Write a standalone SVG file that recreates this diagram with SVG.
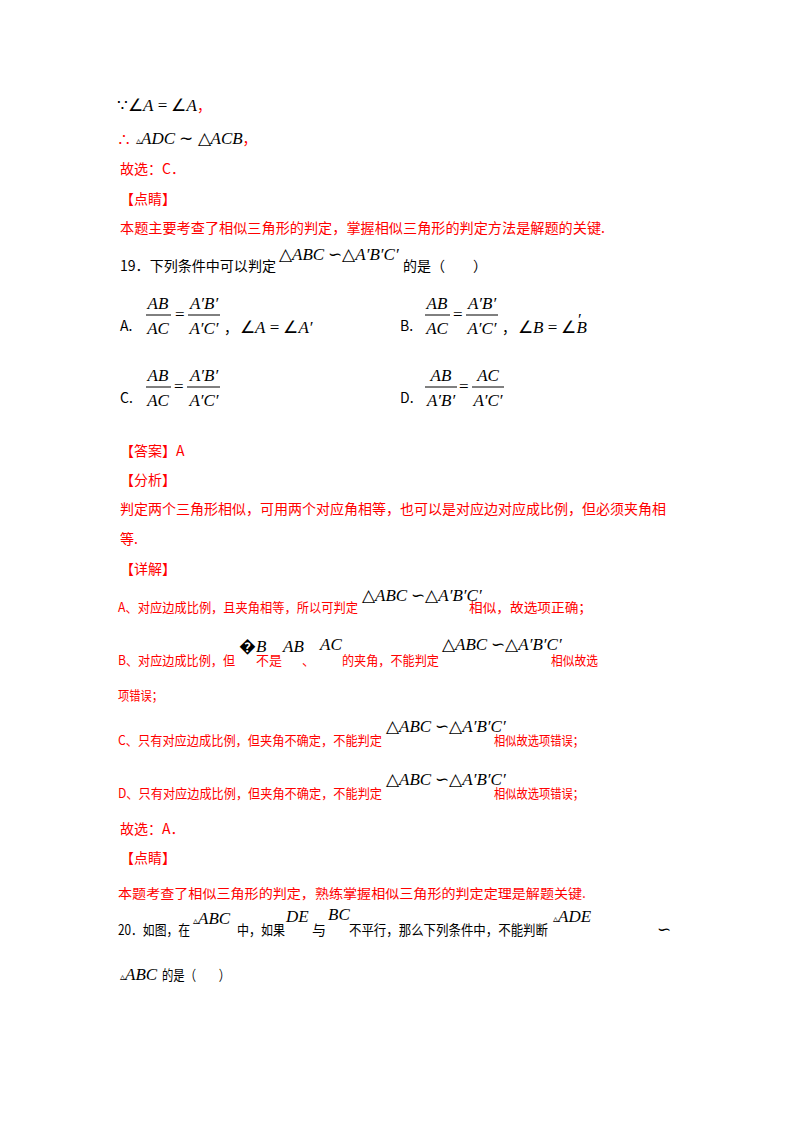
<svg xmlns="http://www.w3.org/2000/svg" width="800" height="1132" viewBox="0 0 800 1132">
<style>
.t{font-family:"Noto Sans CJK SC","Noto Sans",sans-serif;font-size:14px;fill:#000}
.u{font-family:"Noto Sans CJK SC","Noto Sans",sans-serif;font-size:13px;fill:#ff0000}
.r{fill:#ff0000}
.m{font-family:"Liberation Serif",serif;font-style:italic;font-size:17px;fill:#000}
.n{font-family:"Liberation Serif",serif;font-size:17px;fill:#000;font-style:normal}
.s{font-size:10px;font-style:normal}
line{stroke:#000;stroke-width:1}
</style>
<rect width="800" height="1132" fill="#fff"/>
<g id="solution18">
<text x="117" y="111" class="n" font-size="15">∵∠<tspan class="m" font-size="15">A</tspan> = ∠<tspan class="m" font-size="15">A</tspan><tspan class="t r">，</tspan></text>
<text x="117" y="144" class="t r">∴</text>
<text x="136" y="144" class="n"><tspan class="s">▵</tspan><tspan class="m">ADC</tspan> ∼ △<tspan class="m">ACB</tspan><tspan class="t r">，</tspan></text>
<text x="120" y="174" class="t r">故选：C．</text>
<text x="120" y="204" class="t r">【点睛】</text>
<text x="120" y="233" class="t r" textLength="485" lengthAdjust="spacingAndGlyphs">本题主要考查了相似三角形的判定，掌握相似三角形的判定方法是解题的关键.</text>
</g>
<g id="q19">
<text x="120" y="271" class="t" textLength="156" lengthAdjust="spacingAndGlyphs">19．下列条件中可以判定</text>
<text x="279" y="260" class="m"><tspan class="n">△</tspan>ABC <tspan class="n">∽</tspan><tspan class="n">△</tspan>A′B′C′</text>
<text x="403" y="271" class="t">的是（　　）</text>
<text x="120" y="331" class="t">A.</text>
<text x="158" y="309" class="m" text-anchor="middle">AB</text><line x1="146" y1="315" x2="171" y2="315"/><text x="158" y="334" class="m" text-anchor="middle">AC</text>
<text x="175" y="320" class="n">=</text>
<text x="204" y="309" class="m" text-anchor="middle">A′B′</text><line x1="188" y1="315" x2="220" y2="315"/><text x="204" y="334" class="m" text-anchor="middle">A′C′</text>
<text x="224" y="333" class="t">，</text>
<text x="240" y="333" class="n">∠<tspan class="m">A</tspan> = ∠<tspan class="m">A′</tspan></text>
<text x="400" y="331" class="t">B.</text>
<text x="437" y="309" class="m" text-anchor="middle">AB</text><line x1="425" y1="315" x2="450" y2="315"/><text x="437" y="334" class="m" text-anchor="middle">AC</text>
<text x="453" y="320" class="n">=</text>
<text x="482" y="309" class="m" text-anchor="middle">A′B′</text><line x1="466" y1="315" x2="498" y2="315"/><text x="482" y="334" class="m" text-anchor="middle">A′C′</text>
<text x="502" y="333" class="t">，</text>
<text x="518" y="333" class="n">∠<tspan class="m">B</tspan> = ∠<tspan class="m">B</tspan></text>
<text x="578" y="325" class="n" font-size="7">′</text>
<text x="120" y="403" class="t">C.</text>
<text x="158" y="381" class="m" text-anchor="middle">AB</text><line x1="146" y1="387" x2="171" y2="387"/><text x="158" y="406" class="m" text-anchor="middle">AC</text>
<text x="174" y="392" class="n">=</text>
<text x="204" y="381" class="m" text-anchor="middle">A′B′</text><line x1="187" y1="387" x2="220" y2="387"/><text x="204" y="406" class="m" text-anchor="middle">A′C′</text>
<text x="400" y="403" class="t">D.</text>
<text x="441" y="381" class="m" text-anchor="middle">AB</text><line x1="425" y1="387" x2="457" y2="387"/><text x="441" y="406" class="m" text-anchor="middle">A′B′</text>
<text x="459" y="392" class="n">=</text>
<text x="488" y="381" class="m" text-anchor="middle">AC</text><line x1="472" y1="387" x2="504" y2="387"/><text x="488" y="406" class="m" text-anchor="middle">A′C′</text>
</g>
<g id="answer19">
<text x="120" y="456" class="t r">【答案】A</text>
<text x="120" y="485" class="t r">【分析】</text>
<text x="120" y="514" class="t r" textLength="546" lengthAdjust="spacingAndGlyphs">判定两个三角形相似，可用两个对应角相等，也可以是对应边对应成比例，但必须夹角相</text>
<text x="120" y="544" class="t r">等.</text>
<text x="120" y="574" class="t r">【详解】</text>
<text x="118" y="612" class="u" textLength="240" lengthAdjust="spacingAndGlyphs">A、对应边成比例，且夹角相等，所以可判定</text>
<text x="362" y="601" class="m"><tspan class="n">△</tspan>ABC <tspan class="n">∽</tspan><tspan class="n">△</tspan>A′B′C′</text>
<text x="469" y="612" class="u" textLength="123" lengthAdjust="spacingAndGlyphs">相似，故选项正确；</text>
<text x="118" y="665" class="u" textLength="117" lengthAdjust="spacingAndGlyphs">B、对应边成比例，但</text>
<text x="239" y="652" class="m"><tspan class="n">�</tspan>B</text>
<text x="256" y="665" class="u">不是</text>
<text x="283" y="652" class="m">AB</text>
<text x="302" y="665" class="u">、</text>
<text x="320" y="650" class="m">AC</text>
<text x="342" y="665" class="u" textLength="97" lengthAdjust="spacingAndGlyphs">的夹角，不能判定</text>
<text x="442" y="650" class="m"><tspan class="n">△</tspan>ABC <tspan class="n">∽</tspan><tspan class="n">△</tspan>A′B′C′</text>
<text x="551" y="665" class="u" textLength="47" lengthAdjust="spacingAndGlyphs">相似故选</text>
<text x="118" y="700" class="u" textLength="45" lengthAdjust="spacingAndGlyphs">项错误；</text>
<text x="118" y="745" class="u" textLength="264" lengthAdjust="spacingAndGlyphs">C、只有对应边成比例，但夹角不确定，不能判定</text>
<text x="386" y="732" class="m"><tspan class="n">△</tspan>ABC <tspan class="n">∽</tspan><tspan class="n">△</tspan>A′B′C′</text>
<text x="494" y="745" class="u" textLength="90" lengthAdjust="spacingAndGlyphs">相似故选项错误；</text>
<text x="118" y="798" class="u" textLength="264" lengthAdjust="spacingAndGlyphs">D、只有对应边成比例，但夹角不确定，不能判定</text>
<text x="386" y="785" class="m"><tspan class="n">△</tspan>ABC <tspan class="n">∽</tspan><tspan class="n">△</tspan>A′B′C′</text>
<text x="494" y="798" class="u" textLength="90" lengthAdjust="spacingAndGlyphs">相似故选项错误；</text>
<text x="120" y="834" class="t r">故选：A．</text>
<text x="120" y="863" class="t r">【点睛】</text>
<text x="118" y="898" class="u" textLength="468" lengthAdjust="spacingAndGlyphs">本题考查了相似三角形的判定，熟练掌握相似三角形的判定定理是解题关键.</text>
</g>
<g id="q20">
<text x="118" y="935" class="t" font-size="13" textLength="72" lengthAdjust="spacingAndGlyphs">20．如图，在</text>
<text x="193" y="924" class="m"><tspan class="s">▵</tspan>ABC</text>
<text x="237" y="935" class="t" font-size="13" textLength="48" lengthAdjust="spacingAndGlyphs">中，如果</text>
<text x="286" y="922" class="m">DE</text>
<text x="312" y="935" class="t" font-size="13">与</text>
<text x="328" y="920" class="m">BC</text>
<text x="349" y="935" class="t" font-size="13" textLength="199" lengthAdjust="spacingAndGlyphs">不平行，那么下列条件中，不能判断</text>
<text x="553" y="922" class="m"><tspan class="s">▵</tspan>ADE</text>
<text x="657" y="935" class="n" font-size="12">∽</text>
<text x="120" y="980" class="m"><tspan class="s">▵</tspan>ABC</text>
<text x="162" y="980" class="t" font-size="13" textLength="68" lengthAdjust="spacingAndGlyphs">的是（　　）</text>
</g>
</svg>
